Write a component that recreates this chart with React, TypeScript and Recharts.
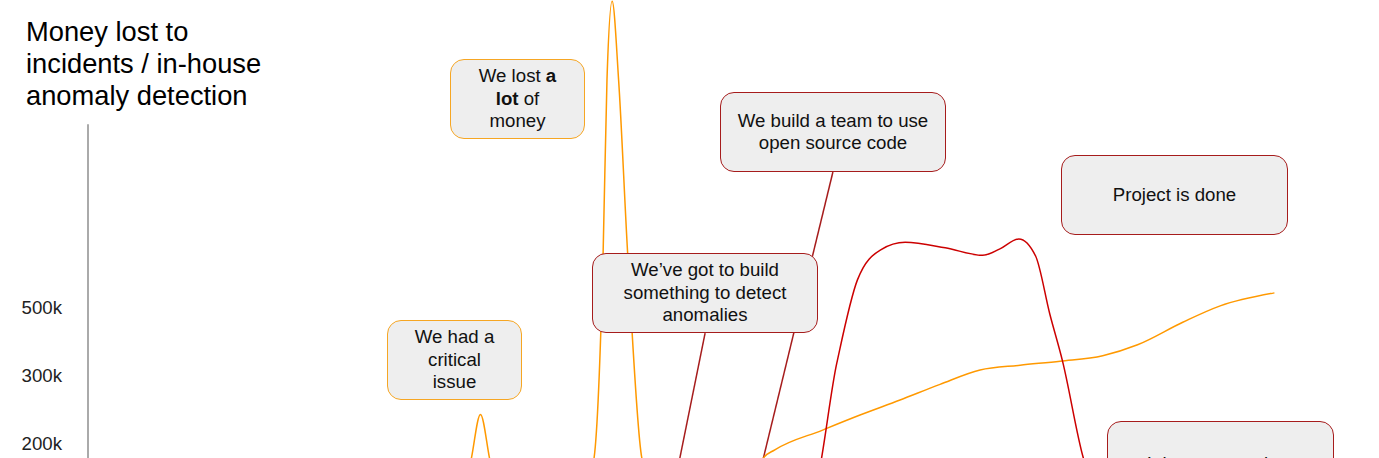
import React from 'react';
import { ComposedChart, Line, XAxis, YAxis, ReferenceLine } from 'recharts';

// Time runs 0..100 across the slide, "level" is the loss/cost in tick steps
const timeDomain: [number, number] = [0, 100];
const levelDomain: [number, number] = [0, 7.5];

// Evenly spaced tick marks, labelled like the slide (not a linear scale)
const yTicks = [1, 2, 3];
const yTickLabels = ['200k', '300k', '500k'];

// Money lost to incidents (orange)
const incidentTime = [
  0, 27.3, 29.3, 29.7, 30.4, 31.1, 31.5, 38.5, 39.2, 39.9, 40.2, 40.6, 41.1, 41.8, 42.9, 43.9,
  51.3, 52.3, 53.2, 56.9, 59.8, 62.9, 66.0, 69.1, 72.2, 75.3, 78.6, 81.3, 84.8, 87.7, 91.9,
];
const incidentLoss = [
  0.3, 0.3, 0.4, 0.79, 1.43, 0.79, 0.4, 0.3, 0.79, 3.79, 6.33, 7.48, 6.33, 3.79, 0.79, 0.3,
  0.2, 0.79, 0.91, 1.2, 1.42, 1.64, 1.87, 2.08, 2.15, 2.21, 2.29, 2.45, 2.78, 3.02, 3.21,
];

// In-house anomaly detection cost (red)
const anomalyTime = [52.0, 56.1, 58.0, 59.6, 61.4, 63.3, 66.4, 69.3, 70.6, 72.1, 73.4, 74.5, 75.5, 77.1, 78.0, 80.0];
const anomalyCost = [0.1, 0.3, 2.18, 3.4, 3.84, 3.95, 3.87, 3.76, 3.85, 4.0, 3.75, 2.9, 2.2, 0.79, 0.3, 0.1];

// Pointer lines from the notes down to the timeline
const pointerStart = [{ t: 57.7, v: 4.98 }, { t: 47.8, v: 2.62 }];
const pointerEnd = [{ t: 51.3, v: 0 }, { t: 45.0, v: 0 }];

const ORANGE = '#ff9900';
const RED = '#cc0000';
const NOTE_RED = '#a61c1c';
const NOTE_ORANGE = '#f6a623';
const FONT = "'Liberation Sans', Arial, sans-serif";

interface Note {
  left: number;
  top: number;
  width: number;
  color: string;
  lines: React.ReactNode[];
  shift?: number;
}

const notes: Note[] = [
  { left: 387, top: 320, width: 135, color: NOTE_ORANGE, lines: ['We had a', 'critical', 'issue'] },
  {
    left: 450, top: 59, width: 135, color: NOTE_ORANGE,
    lines: [<>We lost <b>a</b></>, <><b>lot</b> of</>, 'money'],
  },
  { left: 720, top: 92, width: 226, color: NOTE_RED, lines: ['We build a team to use', 'open source code'] },
  { left: 592, top: 253, width: 226, color: NOTE_RED, lines: ['We\u2019ve got to build', 'something to detect', 'anomalies'] },
  { left: 1061, top: 155, width: 227, color: NOTE_RED, lines: ['Project is done'] },
  { left: 1107, top: 421, width: 227, color: NOTE_RED, lines: ['It is never too late'], shift: 7 },
];

const toPoints = (ts: number[], vs: number[]) => ts.map((t, i) => ({ t, v: vs[i] }));

const App: React.FC = () => {
  const incidents = toPoints(incidentTime, incidentLoss);
  const anomaly = toPoints(anomalyTime, anomalyCost);

  return (
    <div style={{ position: 'absolute', left: 0, top: 0, width: 1379, height: 458, overflow: 'hidden', background: '#fff', fontFamily: FONT }}>
      <ComposedChart width={1379} height={520} margin={{ top: 0, right: 0, bottom: 8, left: 0 }}>
        <XAxis type="number" dataKey="t" domain={timeDomain} hide />
        <YAxis
          type="number"
          dataKey="v"
          domain={levelDomain}
          ticks={yTicks}
          interval={0}
          width={88}
          axisLine={false}
          tickLine={false}
          tickSize={0}
          tickMargin={26}
          tick={{ fontSize: 18.67, fill: '#222', fontFamily: FONT }}
          tickFormatter={(v: number) => yTickLabels[yTicks.indexOf(v)] ?? ''}
        />
        {/* the axis line only runs from under the title down */}
        <ReferenceLine segment={[{ x: 0, y: 5.68 }, { x: 0, y: 0 }]} stroke="#aaa" strokeWidth={2} />
        {pointerStart.map((p, i) => (
          <ReferenceLine
            key={i}
            segment={[{ x: p.t, y: p.v }, { x: pointerEnd[i].t, y: pointerEnd[i].v }]}
            stroke={NOTE_RED}
            strokeWidth={1.5}
          />
        ))}
        <Line
          data={incidents}
          dataKey="v"
          type="monotone"
          stroke={ORANGE}
          strokeWidth={1.5}
          dot={false}
          activeDot={false}
          isAnimationActive={false}
        />
        <Line
          data={anomaly}
          dataKey="v"
          type="monotone"
          stroke={RED}
          strokeWidth={1.5}
          dot={false}
          activeDot={false}
          isAnimationActive={false}
        />
      </ComposedChart>

      <div style={{ position: 'absolute', left: 26, top: 16, fontSize: 27.3, lineHeight: '32px', color: '#000' }}>
        Money lost to<br />incidents / in-house<br />anomaly detection
      </div>

      {notes.map((n, i) => (
        <div
          key={i}
          style={{
            position: 'absolute',
            left: n.left,
            top: n.top,
            width: n.width,
            height: 80,
            boxSizing: 'border-box',
            border: `1.4px solid ${n.color}`,
            borderRadius: 14,
            background: '#eeeeee',
            display: 'flex',
            flexDirection: 'column',
            justifyContent: 'center',
            alignItems: 'center',
            textAlign: 'center',
            fontSize: 18.67,
            lineHeight: '22.5px',
            color: '#111',
            paddingTop: n.shift ?? 0,
          }}
        >
          {n.lines.map((l, j) => (
            <div key={j}>{l}</div>
          ))}
        </div>
      ))}
    </div>
  );
};

export default App;
